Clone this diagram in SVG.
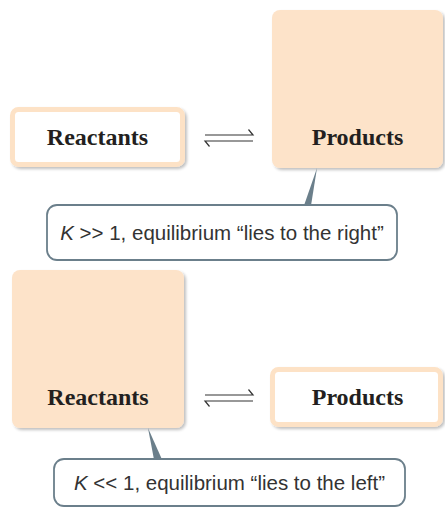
<svg xmlns="http://www.w3.org/2000/svg" width="445" height="510" viewBox="0 0 445 510">
<defs>
<filter id="sh" x="-10%" y="-10%" width="125%" height="130%">
<feGaussianBlur in="SourceAlpha" stdDeviation="1.5"/>
<feOffset dx="1.5" dy="2" result="b"/>
<feComponentTransfer><feFuncA type="linear" slope="0.25"/></feComponentTransfer>
<feMerge><feMergeNode/><feMergeNode in="SourceGraphic"/></feMerge>
</filter>
<style>
.big{fill:#fde3c9;filter:url(#sh)}
.small{fill:#ffffff;stroke:#fde2c6;stroke-width:5;filter:url(#sh)}
.lbl{font-family:"Liberation Serif","Times New Roman",serif;font-weight:bold;font-size:24px;fill:#231f20;text-anchor:middle}
.call{fill:#ffffff;stroke:#6b7f8b;stroke-width:1.8}
.ct{font-family:"Liberation Sans",Arial,sans-serif;font-size:20.5px;fill:#333333;text-anchor:middle}
.eq{fill:none;stroke:#333333;stroke-width:1.2}
.ptr{fill:#6b7f8b}
</style>
</defs>

<g id="top-reactants">
<rect class="small" x="12.5" y="109.5" width="170" height="55" rx="6"/>
<text class="lbl" x="97.5" y="145">Reactants</text>
</g>
<g id="top-products">
<rect class="big" x="272" y="10" width="171" height="158" rx="8"/>
<text class="lbl" x="357.5" y="145">Products</text>
</g>
<g id="top-callout">
<rect class="call" x="47" y="205" width="350" height="55" rx="10"/>
<text class="ct" x="222" y="240"><tspan font-style="italic">K</tspan> &gt;&gt; 1, equilibrium “lies to the right”</text>
</g>

<g id="bottom-reactants">
<rect class="big" x="12" y="270" width="172" height="158" rx="8"/>
<text class="lbl" x="98" y="405">Reactants</text>
</g>
<g id="bottom-products">
<rect class="small" x="272.5" y="369.5" width="168" height="55" rx="6"/>
<text class="lbl" x="357.5" y="405">Products</text>
</g>
<g id="bottom-callout">
<rect class="call" x="54" y="459" width="351" height="47" rx="10"/>
<text class="ct" x="229.5" y="490"><tspan font-style="italic">K</tspan> &lt;&lt; 1, equilibrium “lies to the left”</text>
</g>

<g id="connectors">
<path class="eq" d="M205 135 H253 L248.5 129.5 M253 141 H205 L209.5 146.5"/>
<path class="eq" d="M205 395 H253 L248.5 389.5 M253 401 H205 L209.5 406.5"/>
<polygon class="ptr" points="304,205.5 311,205.5 317,168"/>
<polygon class="ptr" points="148,428 154,459.5 162,459.5"/>
</g>
</svg>
